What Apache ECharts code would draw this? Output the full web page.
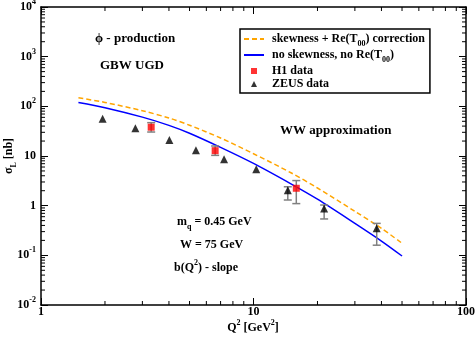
<!DOCTYPE html>
<html><head><meta charset="utf-8">
<script src="https://cdn.jsdelivr.net/npm/echarts@6/dist/echarts.min.js"></script>
<style>html,body{margin:0;padding:0;background:#fff}#c{width:476px;height:338px}</style>
</head><body><div id="c"></div>
<script>
// ---- data ----
const curveQ2 = [1.5, 2, 3, 4, 5, 7, 10, 15, 20, 30, 40, 50];
const skewCurve = [149, 120, 81.5, 58.2, 41.6, 23.0, 11.1, 4.6, 2.27, 0.77, 0.35, 0.175];
const noSkewCurve = [120, 94, 60.7, 41.4, 28.7, 14.9, 7.08, 2.75, 1.35, 0.44, 0.194, 0.097];
const h1Q2 = [3.3, 6.6, 15.9];
const h1Sigma = [38, 12.8, 2.24];
const h1Low = [30.4, 10.3, 1.1];
const h1High = [46.9, 15.9, 3.2];
const zeusQ2 = [1.95, 2.78, 4.02, 5.36, 7.27, 10.3, 14.5, 21.5, 38];
const zeusSigma = [56, 36, 21, 13, 8.6, 5.4, 2.05, 0.88, 0.35];
const zeusErrQ2 = [14.5, 21.5, 38];
const zeusLow = [1.3, 0.54, 0.16];
const zeusHigh = [2.4, 1.03, 0.44];
const seriesNames = ['skew', 'noskew', 'H1 data', 'ZEUS data'];
const legendLabels = ['skewness + Re(T{sub|00}) correction', 'no skewness, no Re(T{sub|00})', 'H1 data', 'ZEUS data'];
const yTickLabels = ['10{sup|-2}', '10{sup|-1}', '1', '10', '10{sup|2}', '10{sup|3}', '10{sup|4}'];
const xTickLabels = ['1', '10', '100'];
const minorMult = [2, 3, 4, 5, 6, 7, 8, 9];
const xDecades = [1, 10];
const yDecades = [0.01, 0.1, 1, 10, 100, 1000];
const X_MIN = 1, X_MAX = 100, Y_MIN = 0.01, Y_MAX = 10000;

const FONT = '"Liberation Serif", "Times New Roman", serif';
const rich = {
  sup: {fontSize: 8, fontWeight: 'bold', fontFamily: FONT, lineHeight: 8, verticalAlign: 'top', color: '#000'},
  sub: {fontSize: 8, fontWeight: 'bold', fontFamily: FONT, lineHeight: 8, verticalAlign: 'bottom', color: '#000'},
  b: {fontSize: 12, fontWeight: 'bold', fontFamily: FONT, lineHeight: 18, color: '#000'}
};
const richX = {
  b: {fontSize: 12, fontWeight: 'bold', fontFamily: FONT, lineHeight: 12, color: '#000'}
};
function wrapRich(s) {
  return s.replace(/([^{}]+)(?![^{]*})/g, m => m.length ? '{b|' + m + '}' : m);
}

const minorData = [];
xDecades.forEach(d => minorMult.forEach(m => minorData.push([m * d, 1, 0])));
yDecades.forEach(d => minorMult.forEach(m => minorData.push([1, m * d, 1])));

const chart = echarts.init(document.getElementById('c'), null, {renderer: 'canvas'});
const axisLine = {show: true, lineStyle: {color: '#000', width: 1.5}};
const majorTick = {show: true, inside: true, length: 7, lineStyle: {color: '#000', width: 1}};

function errBarRender(params, api) {
  const x = api.value(0), lo = api.value(1), hi = api.value(2);
  const p1 = api.coord([x, lo]), p2 = api.coord([x, hi]);
  const cw = 4;
  const st = {stroke: '#808080', lineWidth: 1.5};
  return {type: 'group', children: [
    {type: 'line', shape: {x1: p1[0], y1: p1[1], x2: p2[0], y2: p2[1]}, style: st},
    {type: 'line', shape: {x1: p1[0] - cw, y1: p1[1], x2: p1[0] + cw, y2: p1[1]}, style: st},
    {type: 'line', shape: {x1: p2[0] - cw, y1: p2[1], x2: p2[0] + cw, y2: p2[1]}, style: st}
  ]};
}
function minorRender(params, api) {
  const flag = api.value(2);
  const st = {stroke: '#000', lineWidth: 1};
  const L = 4;
  if (flag === 0) {
    const v = api.value(0);
    const pb = api.coord([v, Y_MIN]), pt = api.coord([v, Y_MAX]);
    return {type: 'group', children: [
      {type: 'line', shape: {x1: pb[0], y1: pb[1], x2: pb[0], y2: pb[1] - L}, style: st},
      {type: 'line', shape: {x1: pt[0], y1: pt[1], x2: pt[0], y2: pt[1] + L}, style: st}
    ]};
  } else {
    const v = api.value(1);
    const pl = api.coord([X_MIN, v]), pr = api.coord([X_MAX, v]);
    return {type: 'group', children: [
      {type: 'line', shape: {x1: pl[0], y1: pl[1], x2: pl[0] + L, y2: pl[1]}, style: st},
      {type: 'line', shape: {x1: pr[0], y1: pr[1], x2: pr[0] - L, y2: pr[1]}, style: st}
    ]};
  }
}

const option = {
  animation: false,
  backgroundColor: '#fff',
  grid: {left: 41, top: 7, right: 10, bottom: 33, containLabel: false, outerBoundsMode: 'none'},
  xAxis: [{
    type: 'log', logBase: 10, min: X_MIN, max: X_MAX, position: 'bottom',
    axisLine, axisTick: majorTick, splitLine: {show: false},
    axisLabel: {margin: 1, formatter: v => '{b|' + xTickLabels[Math.round(Math.log10(v))] + '}', rich: richX}
  }, {
    type: 'log', logBase: 10, min: X_MIN, max: X_MAX, position: 'top',
    axisLine, axisTick: majorTick, axisLabel: {show: false}, splitLine: {show: false}
  }],
  yAxis: [{
    type: 'log', logBase: 10, min: Y_MIN, max: Y_MAX, position: 'left', splitNumber: 6,
    axisLine, axisTick: majorTick, splitLine: {show: false},
    axisLabel: {margin: 5, formatter: v => wrapRich(yTickLabels[Math.round(Math.log10(v)) + 2]), rich}
  }, {
    type: 'log', logBase: 10, min: Y_MIN, max: Y_MAX, position: 'right', splitNumber: 6,
    axisLine, axisTick: majorTick, axisLabel: {show: false}, splitLine: {show: false}
  }],
  legend: {
    data: [
      {name: seriesNames[0], itemStyle: {opacity: 0}},
      {name: seriesNames[1], itemStyle: {opacity: 0}},
      {name: seriesNames[2], icon: 'path://M0,0L10,0L10,10L0,10Z'},
      {name: seriesNames[3], icon: 'path://M5,0L10,10L0,10Z'}
    ],
    orient: 'vertical', left: 240, top: 29,
    backgroundColor: '#fff', borderColor: '#000', borderWidth: 1.5, borderRadius: 0,
    padding: [4, 5, 3, 3], itemWidth: 20, itemHeight: 6, itemGap: 1, symbolKeepAspect: true,
    formatter: name => wrapRich(legendLabels[seriesNames.indexOf(name)]),
    textStyle: {rich, padding: [0, 0, 0, 3]}
  },
  graphic: [
    {type: 'text', x: 95, y: 39, style: {text: 'ϕ - production', font: 'bold 13px ' + FONT, fill: '#000', verticalAlign: 'middle'}},
    {type: 'text', x: 100, y: 66, style: {text: 'GBW UGD', font: 'bold 13px ' + FONT, fill: '#000', verticalAlign: 'middle'}},
    {type: 'text', x: 280, y: 131, style: {text: 'WW approximation', font: 'bold 13px ' + FONT, fill: '#000', verticalAlign: 'middle'}},
    {type: 'text', x: 177, y: 222, style: {text: wrapRich('m{sub|q} = 0.45 GeV'), rich, verticalAlign: 'middle'}},
    {type: 'text', x: 180, y: 245, style: {text: wrapRich('W = 75 GeV'), rich, verticalAlign: 'middle'}},
    {type: 'text', x: 174, y: 268, style: {text: wrapRich('b(Q{sup|2}) - slope'), rich, verticalAlign: 'middle'}},
    {type: 'text', x: 253, y: 328, style: {text: wrapRich('Q{sup|2} [GeV{sup|2}]'), rich, align: 'center', verticalAlign: 'middle'}},
    {type: 'text', x: 9, y: 156, rotation: Math.PI / 2, style: {text: wrapRich('σ{sub|L} [nb]'), rich, align: 'center', verticalAlign: 'middle'}}
  ],
  series: [
    {type: 'custom', renderItem: minorRender, data: minorData, encode: {x: 0, y: 1}, silent: true, z: 1},
    {name: seriesNames[0], type: 'line', data: curveQ2.map((q, i) => [q, skewCurve[i]]), showSymbol: false, symbol: 'none', smooth: 0.3,
     lineStyle: {color: '#FFA500', width: 1.5, type: [5, 3]}, itemStyle: {color: '#FFA500'}, z: 3},
    {name: seriesNames[1], type: 'line', data: curveQ2.map((q, i) => [q, noSkewCurve[i]]), showSymbol: false, symbol: 'none', smooth: 0.3,
     lineStyle: {color: '#0000FF', width: 1.5}, itemStyle: {color: '#0000FF'}, z: 3},
    {type: 'custom', renderItem: errBarRender, data: h1Q2.map((q, i) => [q, h1Low[i], h1High[i]]), encode: {x: 0, y: [1, 2]}, z: 4},
    {type: 'custom', renderItem: errBarRender, data: zeusErrQ2.map((q, i) => [q, zeusLow[i], zeusHigh[i]]), encode: {x: 0, y: [1, 2]}, z: 4},
    {name: seriesNames[2], type: 'scatter', data: h1Q2.map((q, i) => [q, h1Sigma[i]]), symbol: 'rect', symbolSize: 7,
     itemStyle: {color: '#FF0000'}, z: 5},
    {name: seriesNames[3], type: 'scatter', data: zeusQ2.map((q, i) => [q, zeusSigma[i]]), symbol: 'triangle', symbolSize: 8,
     itemStyle: {color: '#000'}, z: 5}
  ]
};
chart.setOption(option);
</script></body></html>
